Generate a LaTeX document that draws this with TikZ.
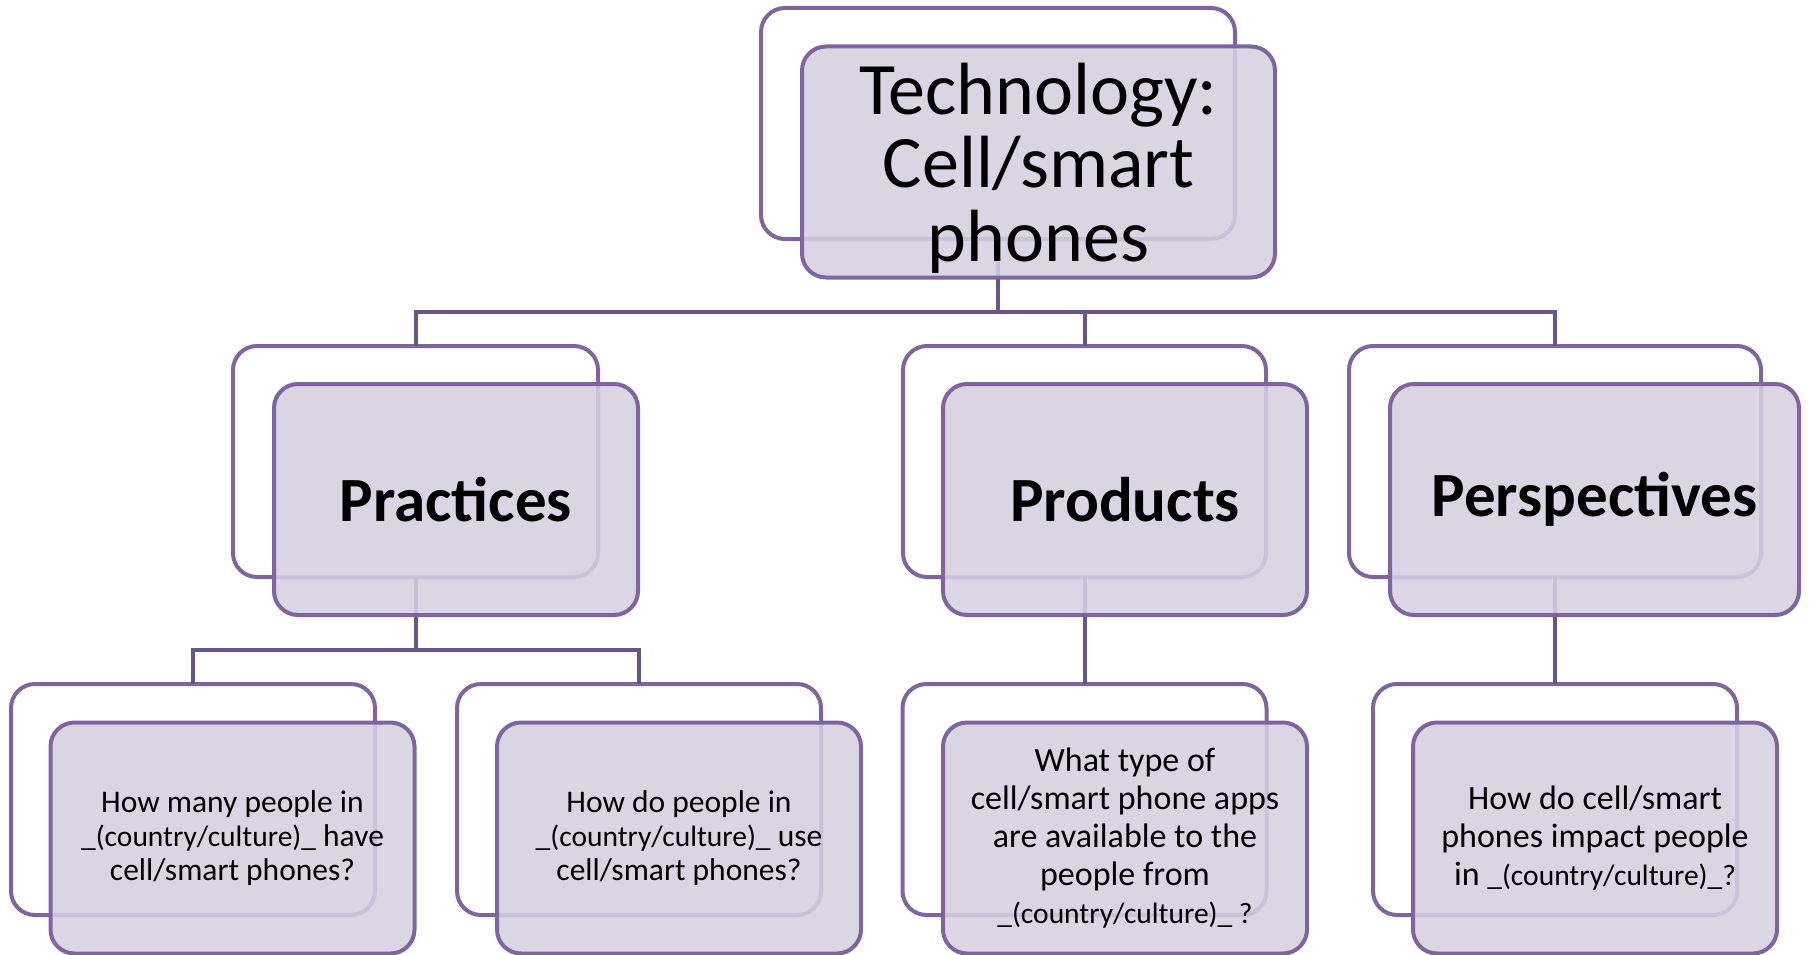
\documentclass[tikz,border=0pt]{standalone}
\usepackage{fontspec}
\setmainfont{Carlito}
\definecolor{bord}{RGB}{128,100,162}
\definecolor{linkcol}{RGB}{103,85,140}
\definecolor{lav}{RGB}{213,208,224}
\newcommand\cfont{\fontsize{29.5}{34}\selectfont}
\tikzset{
  backbox/.style={draw=bord, line width=4pt, fill=white, rounded corners=24pt,
    minimum width=364pt, minimum height=231pt, inner sep=0pt, outer sep=0pt},
  frontbox/.style={draw=bord, line width=4pt, fill=lav, fill opacity=0.88, text opacity=1,
    rounded corners=24pt, minimum width=364pt, minimum height=231pt,
    inner sep=0pt, outer sep=0pt, align=center, text=black},
  link/.style={draw=linkcol, line width=4pt},
  topfont/.style={font=\fontsize{74}{73.5}\selectfont},
  midfont/.style={font=\fontsize{63}{70}\selectfont\bfseries},
  smallq/.style={font=\fontsize{31.5}{34}\selectfont},
  bigq/.style={font=\fontsize{34}{38}\selectfont},
}
\begin{document}
\begin{tikzpicture}[x=1pt,y=-1pt]
\useasboundingbox (0,0) rectangle (1815,955);
% back boxes
\node[backbox, minimum width=474pt] (tb) at (998,123.5) {};
\node[backbox, minimum width=365pt] (pb) at (415.5,461.5) {};
\node[backbox, minimum width=363pt] (rb) at (1084.5,461.5) {};
\node[backbox, minimum width=412pt] (sb) at (1555,461.5) {};
\node[backbox] (qa) at (193,799.5) {};
\node[backbox] (qb) at (639,799.5) {};
\node[backbox] (qc) at (1084.5,799.5) {};
\node[backbox] (qd) at (1555,799.5) {};
% connectors
\draw[link] (tb.south) -- ++(0,72.5) -| (pb.north);
\draw[link] (tb.south) -- ++(0,72.5) -| (rb.north);
\draw[link] (tb.south) -- ++(0,72.5) -| (sb.north);
\draw[link] (pb.south) -- ++(0,73) -| (qa.north);
\draw[link] (pb.south) -- ++(0,73) -| (qb.north);
\draw[link] (rb.south) -- (qc.north);
\draw[link] (sb.south) -- (qd.north);
% front boxes
\node[frontbox, minimum width=473pt] (tf) at (1038.5,162) {};
\node[topfont, align=center, inner sep=0pt] (tt) at ([yshift=-6pt]tf.center) {Technology:\\Cell/smart\\phones};
\node[frontbox, midfont, minimum width=364pt] (pf) at (456,499.5) {Practices};
\node[frontbox, midfont, minimum width=364pt] (rf) at (1125,499.5) {Products};
\node[frontbox, midfont, minimum width=409pt] (sf) at (1594.5,499.5) {Perspectives};
\node[frontbox, smallq] (qaf) at (232.5,838) {How many people in\\{\cfont\_(country/culture)\_} have\\cell/smart phones?};
\node[frontbox, smallq] (qbf) at (679,838) {How do people in\\{\cfont\_(country/culture)\_} use\\cell/smart phones?};
\node[frontbox, bigq] (qcf) at (1125,838) {What type of\\cell/smart phone apps\\are available to the\\people from\\{\cfont\_(country/culture)\_ ?}};
\node[frontbox, bigq] (qdf) at (1595,838) {How do cell/smart\\phones impact people\\in {\cfont\_(country/culture)\_?}};
\end{tikzpicture}
\end{document}
